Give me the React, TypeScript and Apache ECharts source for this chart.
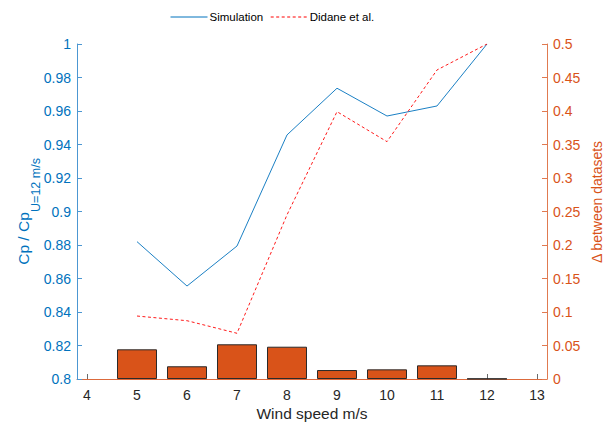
import React, { useEffect, useRef } from "react";
import * as echarts from "echarts";

const windSpeeds = [5, 6, 7, 8, 9, 10, 11, 12];
const simulation = [0.882, 0.8555, 0.8794, 0.9457, 0.9736, 0.957, 0.963, 1.0];
const didane = [0.8376, 0.8348, 0.8273, 0.898, 0.9596, 0.9417, 0.9845, 1.0];
const delta = [0.0443, 0.019, 0.0518, 0.0482, 0.0134, 0.0144, 0.0204, 0.0004];
const xTicks = [4, 5, 6, 7, 8, 9, 10, 11, 12, 13];

const FONT = 'Arial, "Liberation Sans", Helvetica, sans-serif';
const BLUE = "#0072BD";
const ORANGE = "#D95319";
const DARK = "#262626";

const fmt = (v: number) => String(parseFloat(Number(v).toFixed(3)));

export default function App() {
  const ref = useRef<HTMLDivElement>(null);
  useEffect(() => {
    if (!ref.current) return;
    const chart = echarts.init(ref.current, undefined, { renderer: "svg" });
    chart.setOption({
      animation: false,
      backgroundColor: "#ffffff",
      textStyle: { fontFamily: FONT },
      grid: { left: 77, right: 69, top: 44, bottom: 47, containLabel: false },
      legend: {
        left: 165,
        top: 6,
        itemWidth: 37,
        itemHeight: 14,
        itemGap: 7,
        itemStyle: { opacity: 0 },
        lineStyle: { width: 1 },
        textStyle: { fontSize: 11.5, color: "#000", fontFamily: FONT, padding: [0, 0, 0, -3] },
        data: ["Simulation", "Didane et al."],
      },
      xAxis: {
        type: "value",
        min: 3.8,
        max: 13.2,
        axisLine: { show: true, lineStyle: { color: "#dc6a3c", width: 1 } },
        axisTick: {
          show: true,
          inside: true,
          length: 5,
          customValues: xTicks,
          lineStyle: { color: "#6a6a6a" },
        },
        axisLabel: {
          customValues: xTicks,
          fontSize: 14,
          color: DARK,
          margin: 9,
          fontFamily: FONT,
        },
        splitLine: { show: false },
      },
      yAxis: [
        {
          type: "value",
          min: 0.8,
          max: 1,
          interval: 0.02,
          position: "left",
          axisLine: { show: true, lineStyle: { color: "#4c97d2", width: 1 } },
          axisTick: { show: true, inside: true, length: 5, lineStyle: { color: "#4c97d2" } },
          axisLabel: { fontSize: 14, color: BLUE, margin: 6, formatter: fmt, fontFamily: FONT },
          splitLine: { show: false },
        },
        {
          type: "value",
          min: 0,
          max: 0.5,
          interval: 0.05,
          position: "right",
          axisLine: { show: true, lineStyle: { color: "#e07a50", width: 1 } },
          axisTick: { show: true, inside: true, length: 5, lineStyle: { color: "#e07a50" } },
          axisLabel: { fontSize: 14, color: ORANGE, margin: 6, formatter: fmt, fontFamily: FONT },
          splitLine: { show: false },
        },
      ],
      series: [
        {
          name: "Δ",
          type: "bar",
          yAxisIndex: 1,
          barWidth: 40,
          z: 1,
          data: windSpeeds.map((x, i) => [x, delta[i]]),
          itemStyle: { color: ORANGE, borderColor: "#2a2a2a", borderWidth: 1 },
        },
        {
          name: "Simulation",
          type: "line",
          yAxisIndex: 0,
          symbol: "none",
          z: 3,
          data: windSpeeds.map((x, i) => [x, simulation[i]]),
          lineStyle: { color: BLUE, width: 0.9 },
          itemStyle: { color: BLUE },
        },
        {
          name: "Didane et al.",
          type: "line",
          yAxisIndex: 0,
          symbol: "none",
          z: 3,
          data: windSpeeds.map((x, i) => [x, didane[i]]),
          lineStyle: { color: "#FF0000", width: 0.9, type: [3, 2.5] },
          itemStyle: { color: "#FF0000" },
        },
      ],
      graphic: [
        {
          type: "text",
          x: 23,
          y: 238.5,
          rotation: Math.PI / 2,
          style: {
            text: "Cp / Cp",
            fontSize: 15.5,
            fontFamily: FONT,
            fill: BLUE,
            align: "center",
            verticalAlign: "middle",
          },
        },
        {
          type: "text",
          x: 36,
          y: 185,
          rotation: Math.PI / 2,
          style: {
            text: "U=12 m/s",
            fontSize: 12.5,
            fontFamily: FONT,
            fill: BLUE,
            align: "center",
            verticalAlign: "middle",
          },
        },
        {
          type: "text",
          x: 597,
          y: 202,
          rotation: Math.PI / 2,
          style: {
            text: "Δ between datasets",
            fontSize: 14,
            fontFamily: FONT,
            fill: ORANGE,
            align: "center",
            verticalAlign: "middle",
          },
        },
        {
          type: "text",
          x: 312,
          y: 413,
          style: {
            text: "Wind speed m/s",
            fontSize: 15.5,
            fontFamily: FONT,
            fill: DARK,
            align: "center",
            verticalAlign: "middle",
          },
        },
      ],
    });
    return () => chart.dispose();
  }, []);
  return (
    <div
      ref={ref}
      style={{ position: "fixed", left: 0, top: 0, width: 616, height: 426 }}
    />
  );
}
